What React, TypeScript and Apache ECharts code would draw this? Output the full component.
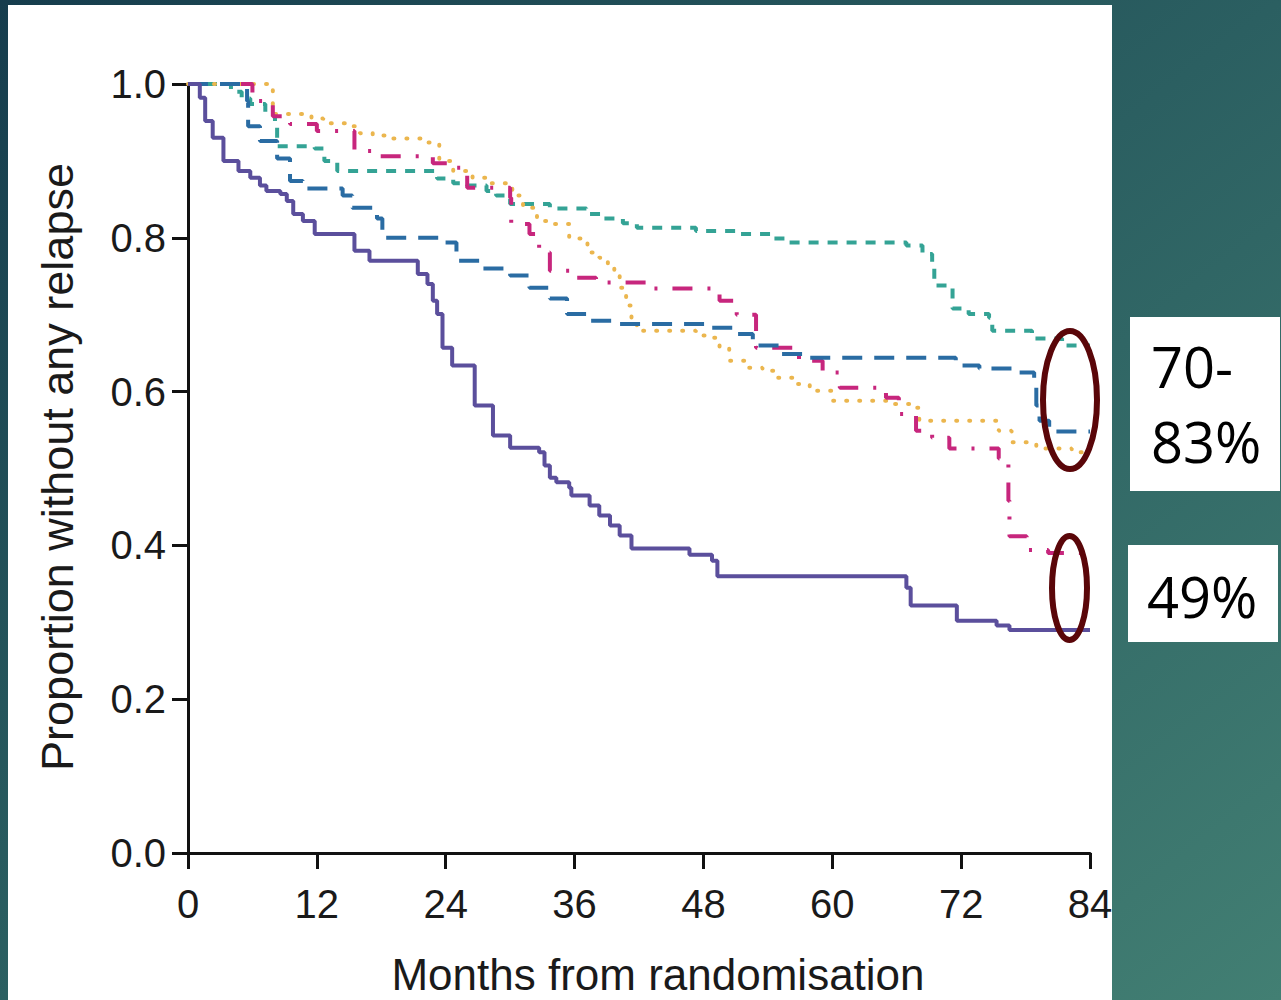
import React, { useEffect, useRef } from "react";
import * as echarts from "echarts";

// Kaplan-Meier style curves: [month, proportion after step]
const purpleCurve: [number, number][] = [
  [0, 1.0], [1.1, 0.982], [1.6, 0.952], [2.3, 0.93], [3.3, 0.9], [4.7, 0.887], [5.8, 0.878],
  [6.7, 0.868], [7.3, 0.861], [8.6, 0.857], [9.2, 0.848], [9.8, 0.831], [10.7, 0.822],
  [11.8, 0.805], [15.5, 0.783], [16.9, 0.77], [21.4, 0.753], [22.3, 0.74], [22.8, 0.718],
  [23.2, 0.701], [23.7, 0.657], [24.6, 0.634], [26.7, 0.582], [28.4, 0.543], [30.0, 0.527],
  [32.7, 0.521], [33.2, 0.504], [33.7, 0.488], [34.3, 0.482], [35.5, 0.475], [35.7, 0.465],
  [37.4, 0.452], [38.3, 0.439], [39.3, 0.426], [40.2, 0.413], [41.3, 0.396], [46.7, 0.388],
  [48.8, 0.38], [49.3, 0.36], [66.9, 0.345], [67.3, 0.322], [71.6, 0.302], [75.3, 0.296],
  [76.5, 0.29], [84, 0.29],
];

const tealCurve: [number, number][] = [
  [0, 1.0], [4.0, 0.99], [5.0, 0.981], [5.8, 0.974], [7.2, 0.961], [8.1, 0.945], [8.3, 0.919],
  [11.8, 0.916], [12.7, 0.9], [13.9, 0.887], [23.2, 0.877], [24.7, 0.871], [26.0, 0.868],
  [27.8, 0.861], [28.7, 0.855], [30.0, 0.844], [33.7, 0.838], [37.1, 0.831], [38.6, 0.825],
  [40.5, 0.819], [41.8, 0.813], [47.3, 0.809], [51.1, 0.805], [54.4, 0.799], [56.0, 0.794],
  [66.9, 0.79], [68.4, 0.779], [69.3, 0.761], [69.5, 0.738], [71.2, 0.708], [72.7, 0.701],
  [74.6, 0.696], [74.9, 0.679], [78.6, 0.669], [81.4, 0.66], [84, 0.66],
];

const blueCurve: [number, number][] = [
  [0, 1.0], [5.5, 0.978], [5.6, 0.945], [6.7, 0.926], [8.3, 0.903], [9.5, 0.874], [10.7, 0.864],
  [14.4, 0.855], [15.3, 0.839], [17.6, 0.825], [18.1, 0.8], [23.7, 0.794], [25.0, 0.77],
  [27.2, 0.76], [30.0, 0.751], [31.8, 0.735], [33.7, 0.721], [35.3, 0.701], [37.4, 0.692],
  [40.2, 0.688], [48.6, 0.683], [50.7, 0.675], [52.6, 0.66], [55.1, 0.649], [57.6, 0.644],
  [71.5, 0.634], [73.7, 0.63], [76.7, 0.625], [78.8, 0.608], [79.0, 0.582], [79.3, 0.562],
  [80.2, 0.548], [84, 0.548],
];

const magentaCurve: [number, number][] = [
  [0, 1.0], [6.0, 0.978], [7.9, 0.958], [9.5, 0.948], [12.0, 0.939], [15.5, 0.913],
  [17.9, 0.906], [22.8, 0.897], [24.7, 0.891], [26.0, 0.865], [30.0, 0.852], [30.1, 0.818],
  [31.8, 0.805], [32.7, 0.781], [33.7, 0.757], [35.8, 0.748], [38.0, 0.742], [42.7, 0.734],
  [49.5, 0.718], [51.1, 0.7], [52.9, 0.657], [56.9, 0.64], [59.1, 0.625], [60.7, 0.605],
  [65.0, 0.592], [66.2, 0.571], [67.8, 0.549], [69.3, 0.54], [70.9, 0.526], [75.5, 0.513],
  [76.4, 0.458], [76.5, 0.412], [78.1, 0.394], [80.1, 0.39], [84, 0.39],
];

const yellowCurve: [number, number][] = [
  [0, 1.0], [7.9, 0.961], [11.5, 0.955], [12.6, 0.949], [15.3, 0.945], [16.0, 0.936],
  [17.2, 0.933], [18.5, 0.929], [22.3, 0.924], [23.4, 0.9], [24.7, 0.887], [26.5, 0.878],
  [27.8, 0.871], [30.2, 0.855], [31.2, 0.839], [32.5, 0.822], [33.9, 0.818], [35.5, 0.799],
  [36.7, 0.794], [37.2, 0.781], [38.3, 0.774], [39.1, 0.766], [39.7, 0.755], [40.2, 0.735],
  [40.8, 0.712], [41.3, 0.695], [41.8, 0.679], [47.3, 0.673], [48.6, 0.67], [49.5, 0.657],
  [50.4, 0.64], [52.0, 0.631], [53.5, 0.627], [54.8, 0.618], [56.3, 0.61], [57.9, 0.601],
  [60.0, 0.588], [65.3, 0.584], [67.4, 0.579], [68.1, 0.562], [75.5, 0.549], [76.7, 0.534],
  [79.0, 0.526], [82.3, 0.521], [84, 0.521],
];

const xAxisTitle = "Months from randomisation";
const yAxisTitle = "Proportion without any relapse";
const boxTextTop = ["70-", "83%"];
const boxTextBottom = ["49%"];

export default function App() {
  const ref = useRef<HTMLDivElement>(null);

  useEffect(() => {
    if (!ref.current) return;
    const chart = echarts.init(ref.current, undefined, { renderer: "svg" });
    const axisFont = "'Liberation Sans', Arial, Helvetica, sans-serif";
    const boxFont = "'Open Sans', 'Noto Sans', sans-serif";

    const mkSeries = (name: string, data: [number, number][], color: string, type: any, width: number, cap = "butt") => ({
      name,
      type: "line",
      step: "end",
      showSymbol: false,
      symbol: "none",
      data,
      lineStyle: { color, width, type, cap },
      z: 3,
    });

    chart.setOption({
      animation: false,
      backgroundColor: "transparent",
      grid: { left: 188, right: 191, top: 84, bottom: 147, containLabel: false },
      xAxis: {
        type: "value",
        min: 0,
        max: 84,
        interval: 12,
        splitLine: { show: false },
        axisLine: { show: true, onZero: false, lineStyle: { color: "#111", width: 3 } },
        axisTick: { show: true, inside: false, length: 16, lineStyle: { color: "#111", width: 3 } },
        axisLabel: { color: "#1a1a1a", fontSize: 40, fontFamily: axisFont, margin: 31 },
      },
      yAxis: {
        type: "value",
        min: 0,
        max: 1,
        interval: 0.2,
        splitLine: { show: false },
        axisLine: { show: true, onZero: false, lineStyle: { color: "#111", width: 3 } },
        axisTick: { show: true, inside: false, length: 16, lineStyle: { color: "#111", width: 3 } },
        axisLabel: {
          color: "#1a1a1a",
          fontSize: 40,
          fontFamily: axisFont,
          margin: 22,
          formatter: (v: number) => v.toFixed(1),
        },
      },
      series: [
        mkSeries("teal", tealCurve, "#34a395", [10, 9], 4),
        mkSeries("yellow", yellowCurve, "#ebb64e", [1, 12], 4, "round"),
        mkSeries("magenta", magentaCurve, "#c7267d", [20, 15, 3, 15], 4),
        mkSeries("blue", blueCurve, "#2a6ca3", [20, 12], 4),
        { ...mkSeries("purple", purpleCurve, "#5b4f9c", "solid", 4), z: 4 },
      ],
      graphic: [
        {
          type: "text",
          x: 658,
          y: 974,
          style: {
            text: xAxisTitle,
            fill: "#1a1a1a",
            fontSize: 44,
            lineHeight: 40,
            fontFamily: axisFont,
            align: "center",
            verticalAlign: "middle",
          },
        },
        {
          type: "text",
          x: 57,
          y: 467,
          rotation: Math.PI / 2,
          style: {
            text: yAxisTitle,
            fill: "#1a1a1a",
            fontSize: 45,
            fontFamily: axisFont,
            align: "center",
            verticalAlign: "middle",
          },
        },
        {
          type: "ellipse",
          shape: { cx: 1070, cy: 400, rx: 27, ry: 69 },
          style: { fill: "none", stroke: "#5a0609", lineWidth: 6 },
          z: 10,
        },
        {
          type: "ellipse",
          shape: { cx: 1069.5, cy: 588, rx: 17.5, ry: 52 },
          style: { fill: "none", stroke: "#5a0609", lineWidth: 6 },
          z: 10,
        },
        {
          type: "rect",
          shape: { x: 1130, y: 317, width: 150, height: 174 },
          style: { fill: "#ffffff" },
          z: 10,
        },
        {
          type: "text",
          x: 1151,
          y: 366,
          style: { text: boxTextTop[0], fill: "#000", fontSize: 56, fontFamily: boxFont, align: "left", verticalAlign: "middle" },
          z: 11,
        },
        {
          type: "text",
          x: 1151,
          y: 441,
          style: { text: boxTextTop[1], fill: "#000", fontSize: 56, fontFamily: boxFont, align: "left", verticalAlign: "middle" },
          z: 11,
        },
        {
          type: "rect",
          shape: { x: 1128, y: 545, width: 150, height: 97 },
          style: { fill: "#ffffff" },
          z: 10,
        },
        {
          type: "text",
          x: 1147,
          y: 596,
          style: { text: boxTextBottom[0], fill: "#000", fontSize: 56, fontFamily: boxFont, align: "left", verticalAlign: "middle" },
          z: 11,
        },
      ],
    });

    return () => chart.dispose();
  }, []);

  return (
    <div
      style={{
        position: "fixed",
        left: 0,
        top: 0,
        width: 1281,
        height: 1000,
        overflow: "hidden",
        background: "linear-gradient(to bottom right, #163d4d 0%, #2b5f61 50%, #427f73 100%)",
      }}
    >
      <div style={{ position: "absolute", left: 8, top: 5, width: 1104, height: 995, background: "#ffffff" }} />
      <div ref={ref} style={{ position: "absolute", left: 0, top: 0, width: 1281, height: 1000 }} />
    </div>
  );
}
